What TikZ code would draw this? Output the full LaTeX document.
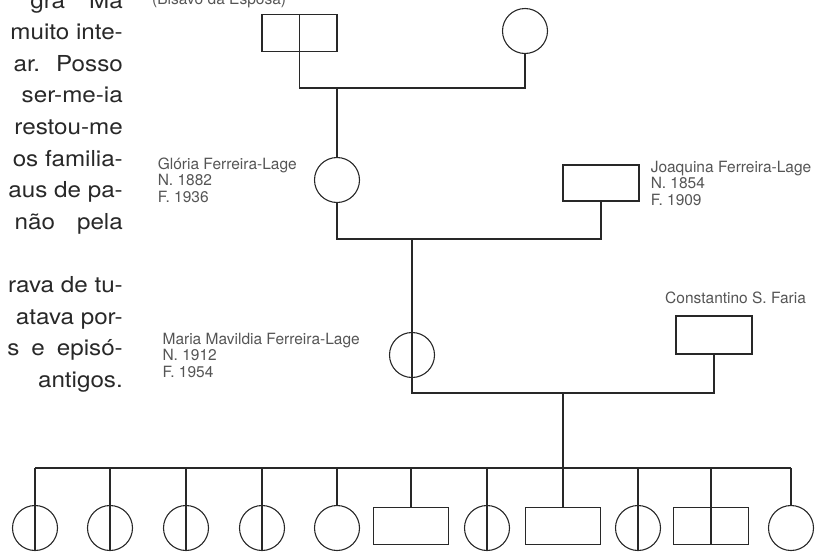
\documentclass[tikz,border=0pt]{standalone}
\usepackage{fontspec}
\setmainfont{TeX Gyre Heros}
\newfontfamily\columnfont[FakeStretch=1.1]{TeX Gyre Heros}
\usetikzlibrary{positioning}
\definecolor{inkgray}{RGB}{40, 40, 40}
\definecolor{labelgray}{RGB}{85, 85, 85}
\definecolor{textgray}{RGB}{40, 40, 40}

\begin{document}
\begin{tikzpicture}[x=1pt, y=-1pt,
  female/.style={
    circle, draw=inkgray, line width=1.1pt,
    minimum size=45pt, inner sep=0pt
  },
  male/.style={
    rectangle, draw=inkgray, line width=1.1pt,
    minimum width=75pt, minimum height=37pt, inner sep=0pt
  },
  link/.style={draw=inkgray, line width=1.8pt},
  thru/.style={draw=inkgray, line width=1.1pt},
  info/.style={
    font=\fontsize{15.5}{16.5}\selectfont, text=labelgray,
    align=left, inner sep=0pt
  },
  column/.style={
    font=\columnfont\fontsize{22}{28}\selectfont, text=textgray,
    anchor=base east, inner sep=0pt
  }
]
\useasboundingbox (0,0) rectangle (827,552);
\clip (0,0) rectangle (827,552);

% column of text cut by the page edge
\node[column] (t0)  at (123, 8)     {gra\hspace{24pt}Ma};
\node[column] (t1)  at (123, 39.6)  {muito inte-};
\node[column] (t2)  at (123, 71.2)  {ar.\hspace{16pt}Posso};
\node[column] (t3)  at (123, 102.8) {ser-me-ia};
\node[column] (t4)  at (123, 134.4) {restou-me};
\node[column] (t5)  at (123, 166)   {os familia-};
\node[column] (t6)  at (123, 197.6) {aus de pa-};
\node[column] (t7)  at (123, 229.2) {não\hspace{22pt}pela};
\node[column] (t9)  at (123, 292.4) {rava de tu-};
\node[column] (t10) at (123, 324)   {atava por-};
\node[column] (t11) at (123, 355.6) {s\hspace{12pt}e\hspace{12pt}episó-};
\node[column] (t12) at (123, 387.2) {antigos.};

% great-grandparents
\node[male]   (bisavo) at (299.5, 33) {};
\node[female] (bisava) at (525, 31) {};
\node[info, anchor=base west] (lblbisavo) at (152, 4) {(Bisavô da Esposa)};
\coordinate (m0) at (337, 88);
\draw[thru] (bisavo.north) -- (bisavo.south);
\draw[link] (bisavo.south) |- (m0) -| (bisava.south);

% grandparents
\node[female] (gloria) at (337, 180) {};
\node[male, minimum width=76pt, minimum height=36pt] (joaquina) at (601, 183) {};
\node[info, left=17pt of gloria] (lblgloria)
  {Glória Ferreira-Lage\\N. 1882\\F. 1936};
\node[info, right=11pt of joaquina] (lbljoaquina)
  {Joaquina Ferreira-Lage\\N. 1854\\F. 1909};
\draw[link] (m0) -- (gloria.north);
\coordinate (m1) at (412, 239);
\draw[link] (gloria.south) |- (m1) -| (joaquina.south);

% parents
\node[female] (maria) at (412, 355) {};
\node[male, minimum width=76pt, minimum height=38pt] (constantino) at (714, 335) {};
\node[info, left=29pt of maria] (lblmaria)
  {Maria Mavildia Ferreira-Lage\\N. 1912\\F. 1954};
\node[info, anchor=base west] (lblconstantino) at (665, 303) {Constantino S. Faria};
\draw[link] (m1) -- (maria.north);
\draw[thru] (maria.north) -- (maria.south);
\coordinate (m2) at (563, 393);
\draw[link] (maria.south) |- (m2) -| (constantino.south);

% children
\coordinate (sib) at (563, 468);
\draw[link] (m2) -- (sib);
\node[female] (c1)  at (35, 528)  {};
\node[female] (c2)  at (110, 528) {};
\node[female] (c3)  at (186, 528) {};
\node[female] (c4)  at (262, 528) {};
\node[female] (c5)  at (337, 528) {};
\node[male]   (c6)  at (411, 526) {};
\node[female] (c7)  at (487, 528) {};
\node[male]   (c8)  at (563, 526) {};
\node[female] (c9)  at (638, 528) {};
\node[male]   (c10) at (711, 526) {};
\node[female] (c11) at (791, 528) {};
\draw[link] (sib -| c1) -- (sib -| c11);
\draw[link] (sib -| c1)  -- (c1.north);
\draw[link] (sib -| c2)  -- (c2.north);
\draw[link] (sib -| c3)  -- (c3.north);
\draw[link] (sib -| c4)  -- (c4.north);
\draw[link] (sib -| c5)  -- (c5.north);
\draw[link] (sib -| c6)  -- (c6.north);
\draw[link] (sib -| c7)  -- (c7.north);
\draw[link] (sib -| c8)  -- (c8.north);
\draw[link] (sib -| c9)  -- (c9.north);
\draw[link] (sib -| c10) -- (c10.north);
\draw[link] (sib -| c11) -- (c11.north);
\draw[thru] (c1.north)  -- (c1.south);
\draw[thru] (c2.north)  -- (c2.south);
\draw[thru] (c3.north)  -- (c3.south);
\draw[thru] (c4.north)  -- (c4.south);
\draw[thru] (c7.north)  -- (c7.south);
\draw[thru] (c9.north)  -- (c9.south);
\draw[thru] (c10.north) -- (c10.south);

\end{tikzpicture}
\end{document}
